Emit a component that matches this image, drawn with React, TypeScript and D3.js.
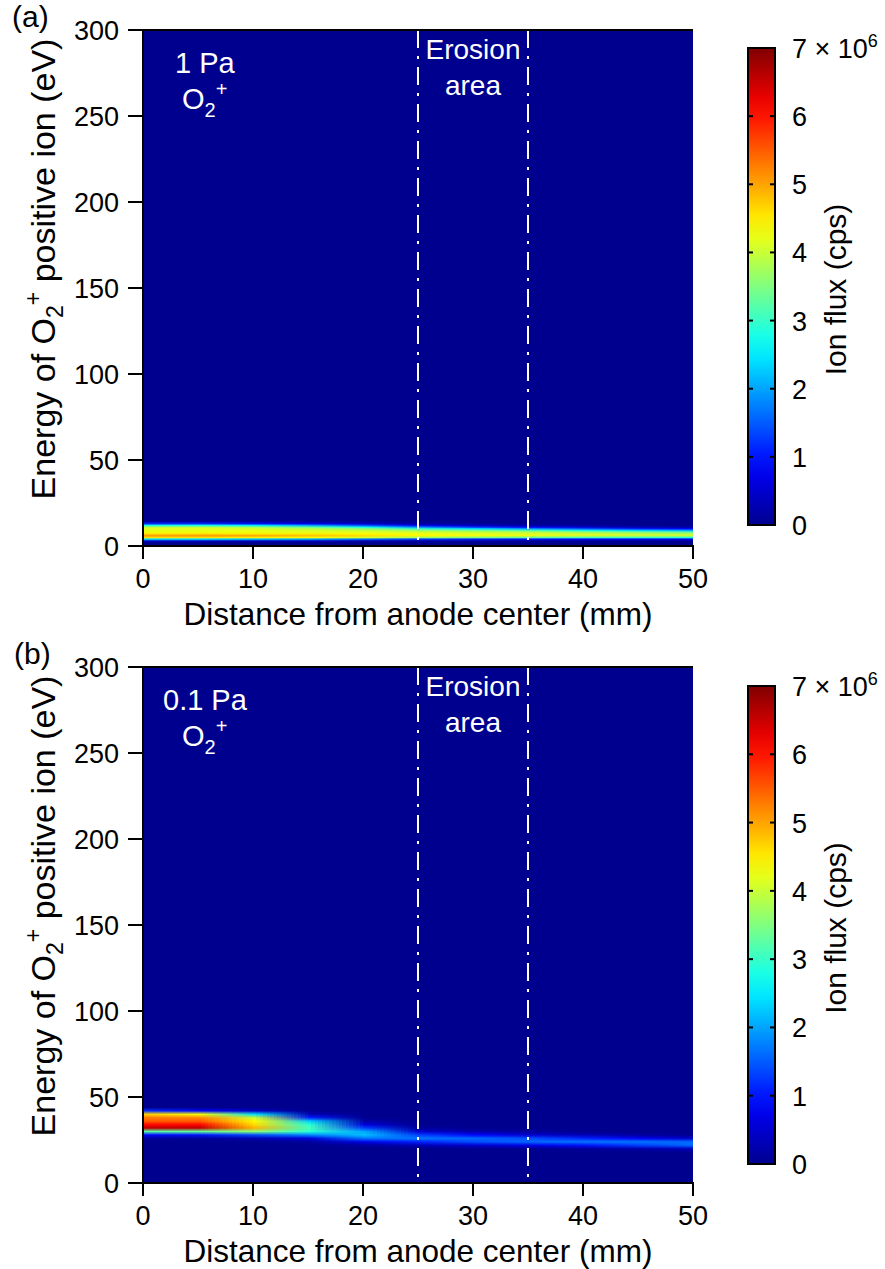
import React, { useMemo } from 'react';
import * as d3 from 'd3';

// distance from anode center (mm), one column of the maps per entry
const distances = [0, 5, 10, 15, 20, 25, 30, 35, 40, 45, 50];

// (a) 1 Pa: energy rows (eV) and flux (x10^6 cps), one line per distance
const energiesA = [2, 3, 4, 5, 6, 7, 8, 9, 10, 11, 12, 13, 14, 15];
const fluxA = [
  [0, 0.5, 2.5, 4.6, 5.1, 4.6, 4.3, 4.2, 4.2, 3.9, 2.8, 1.2, 0.3, 0],
  [0, 0.5, 2.5, 4.6, 5.1, 4.6, 4.3, 4.2, 4.2, 3.9, 2.8, 1.2, 0.3, 0],
  [0, 0.4, 2.3, 4.5, 5.0, 4.5, 4.3, 4.2, 4.1, 3.7, 2.5, 1.0, 0.2, 0],
  [0, 0.4, 2.1, 4.4, 4.8, 4.5, 4.2, 4.1, 3.9, 3.3, 2.0, 0.7, 0.2, 0],
  [0, 0.3, 1.7, 4.1, 4.6, 4.4, 4.2, 4.0, 3.6, 2.7, 1.4, 0.5, 0.1, 0],
  [0, 0.2, 1.3, 3.7, 4.4, 4.3, 4.1, 3.7, 3.0, 1.8, 0.7, 0.2, 0, 0],
  [0, 0.2, 1.1, 3.5, 4.3, 4.2, 4.0, 3.5, 2.5, 1.2, 0.4, 0.1, 0, 0],
  [0, 0.1, 1.0, 3.3, 4.2, 4.2, 3.9, 3.2, 2.0, 0.8, 0.2, 0, 0, 0],
  [0, 0.1, 0.9, 3.1, 4.1, 4.1, 3.7, 2.8, 1.5, 0.5, 0.1, 0, 0, 0],
  [0, 0.1, 0.8, 3.0, 4.0, 4.0, 3.5, 2.4, 1.1, 0.3, 0, 0, 0, 0],
  [0, 0.1, 0.7, 2.9, 4.0, 3.9, 3.3, 2.1, 0.9, 0.2, 0, 0, 0, 0],
];

// (b) 0.1 Pa
const energiesB = [18, 20, 22, 24, 26, 28, 30, 32, 34, 36, 38, 40, 42, 44];
const fluxB = [
  [0, 0, 0, 0, 0.1, 0.9, 3.2, 6.6, 6.1, 5.5, 5.3, 4.7, 1.2, 0],
  [0, 0, 0, 0, 0.1, 1.0, 3.3, 6.6, 6.1, 5.5, 5.2, 4.3, 0.9, 0],
  [0, 0, 0, 0, 0.3, 1.4, 3.6, 4.9, 4.6, 4.4, 4.0, 2.4, 0.4, 0],
  [0, 0, 0, 0.1, 0.6, 1.8, 2.9, 3.1, 2.9, 2.3, 1.1, 0.3, 0, 0],
  [0, 0, 0.1, 0.7, 1.7, 2.2, 2.0, 1.3, 0.6, 0.2, 0, 0, 0, 0],
  [0, 0, 0.3, 1.1, 1.7, 1.3, 0.5, 0.1, 0, 0, 0, 0, 0, 0],
  [0, 0, 0.5, 1.4, 1.6, 0.9, 0.2, 0, 0, 0, 0, 0, 0, 0],
  [0, 0, 0.7, 1.6, 1.4, 0.5, 0.1, 0, 0, 0, 0, 0, 0, 0],
  [0, 0.1, 1.0, 1.7, 1.1, 0.3, 0, 0, 0, 0, 0, 0, 0, 0],
  [0, 0.2, 1.3, 1.7, 0.8, 0.1, 0, 0, 0, 0, 0, 0, 0, 0],
  [0, 0.4, 1.6, 1.6, 0.4, 0, 0, 0, 0, 0, 0, 0, 0, 0],
];

const xTicks = [0, 10, 20, 30, 40, 50];
const yTicks = [0, 50, 100, 150, 200, 250, 300];
const cbarTicks = [0, 1, 2, 3, 4, 5, 6, 7];
const erosionEdges = [25, 35];

const FONT = '"Liberation Sans", Arial, Helvetica, sans-serif';

const jet = d3
  .scaleLinear<string>()
  .domain([0, 0.125, 0.375, 0.625, 0.875, 1].map(t => t * 7))
  .range(['#00008f', '#0000ff', '#00ffff', '#ffff00', '#ff0000', '#800000'])
  .clamp(true);

function mapImage(flux: number[][]) {
  const cols = flux.length;
  const rows = flux[0].length;
  const canvas = document.createElement('canvas');
  canvas.width = cols;
  canvas.height = rows;
  const ctx = canvas.getContext('2d')!;
  flux.forEach((col, c) => {
    col.forEach((v, r) => {
      ctx.fillStyle = jet(v);
      ctx.fillRect(c, rows - 1 - r, 1, 1);
    });
  });
  return canvas.toDataURL();
}

type PanelProps = {
  top: number;
  letter: string;
  pressure: string;
  energies: number[];
  flux: number[][];
  cbarTop: number;
  cbarBottom: number;
};

const left = 143;
const right = 693;
const plotH = 516;

const Panel = ({ top, letter, pressure, energies, flux, cbarTop, cbarBottom }: PanelProps) => {
  const bottom = top + plotH;
  const x = d3.scaleLinear().domain([0, 50]).range([left, right]);
  const y = d3.scaleLinear().domain([0, 300]).range([bottom, top]);
  const cy = d3.scaleLinear().domain([0, 7]).range([cbarBottom, cbarTop]);
  const href = useMemo(() => mapImage(flux), [flux]);
  const dStep = distances[1] - distances[0];
  const eStep = energies[1] - energies[0];
  const clipId = `clip-${letter}`;
  const gradId = `grad-${letter}`;
  const cx0 = 748;
  const cw = 27;

  return (
    <g fontFamily={FONT}>
      <defs>
        <clipPath id={clipId}>
          <rect x={left} y={top} width={right - left} height={plotH} />
        </clipPath>
        <linearGradient id={gradId} x1="0" y1="1" x2="0" y2="0">
          {d3.range(0, 1.0001, 0.05).map(t => (
            <stop key={t} offset={t} stopColor={jet(t * 7)} />
          ))}
        </linearGradient>
      </defs>

      {/* heat map */}
      <rect x={left} y={top} width={right - left} height={plotH} fill={jet(0)} />
      <image
        href={href}
        clipPath={`url(#${clipId})`}
        x={x(distances[0] - dStep / 2)}
        width={x(distances[distances.length - 1] + dStep / 2) - x(distances[0] - dStep / 2)}
        y={y(energies[energies.length - 1] + eStep / 2)}
        height={y(energies[0] - eStep / 2) - y(energies[energies.length - 1] + eStep / 2)}
        preserveAspectRatio="none"
      />

      {/* erosion area markers */}
      {erosionEdges.map(d => (
        <line key={d} x1={x(d)} x2={x(d)} y1={top} y2={bottom} stroke="#fff" strokeWidth={2} strokeDasharray="18 8 3 8" />
      ))}
      <text x={x(30)} y={top + 29} fill="#fff" fontSize={28} textAnchor="middle">Erosion</text>
      <text x={x(30)} y={top + 65} fill="#fff" fontSize={28} textAnchor="middle">area</text>

      <text x={letter === 'a' ? 175 : 163} y={top + 43} fill="#fff" fontSize={29}>{pressure}</text>
      <text x={182} y={top + 79} fill="#fff" fontSize={29}>
        O<tspan fontSize={20} dy={8}>2</tspan><tspan fontSize={20} dy={-21}>+</tspan>
      </text>

      {/* frame */}
      <line x1={left} x2={right} y1={top} y2={top} stroke="#000" strokeWidth={2} />
      <line x1={left} x2={left} y1={top - 1} y2={bottom + 1} stroke="#000" strokeWidth={2} />
      <line x1={left - 1} x2={right + 1} y1={bottom} y2={bottom} stroke="#000" strokeWidth={2} />

      {/* y axis */}
      {yTicks.map(t => (
        <g key={t}>
          <line x1={left - 15} x2={left} y1={y(t)} y2={y(t)} stroke="#000" strokeWidth={2} />
          <text x={left - 24} y={y(t) + 10} fontSize={27} textAnchor="end">{t}</text>
        </g>
      ))}
      <text transform={`translate(55,${(top + bottom) / 2 - 19}) rotate(-90)`} fontSize={34} textAnchor="middle">
        Energy of O<tspan fontSize={23} dy={8}>2</tspan><tspan fontSize={23} dy={-22}>+</tspan><tspan dy={14}> positive ion (eV)</tspan>
      </text>

      {/* x axis */}
      {xTicks.map(t => (
        <g key={t}>
          <line x1={x(t)} x2={x(t)} y1={bottom} y2={bottom + 13} stroke="#000" strokeWidth={2} />
          <text x={x(t)} y={bottom + 42} fontSize={27} textAnchor="middle">{t}</text>
        </g>
      ))}
      <text x={(left + right) / 2} y={bottom + 79} fontSize={31.5} textAnchor="middle">
        Distance from anode center (mm)
      </text>

      <text x={letter === 'a' ? 12 : 14} y={top - 3} fontSize={30}>({letter})</text>

      {/* colour bar */}
      <rect x={cx0} y={cbarTop} width={cw} height={cbarBottom - cbarTop} fill={`url(#${gradId})`} stroke="#000" strokeWidth={2} />
      {cbarTicks.map(t => (
        <g key={t}>
          {t > 0 && t < 7 && (
            <>
              <line x1={cx0} x2={cx0 + 5} y1={cy(t)} y2={cy(t)} stroke="#000" strokeWidth={2} />
              <line x1={cx0 + cw - 5} x2={cx0 + cw} y1={cy(t)} y2={cy(t)} stroke="#000" strokeWidth={2} />
            </>
          )}
          <text x={792} y={cy(t) + 10} fontSize={27}>
            {t === 7 ? (
              <>
                7 × 10<tspan fontSize={18} dy={-11}>6</tspan>
              </>
            ) : (
              t
            )}
          </text>
        </g>
      ))}
      <text transform={`translate(846,${(cbarTop + cbarBottom) / 2 + 3}) rotate(-90)`} fontSize={30} textAnchor="middle">
        Ion flux (cps)
      </text>
    </g>
  );
};

export default function App() {
  return (
    <svg width={885} height={1269} style={{ position: 'absolute', left: 0, top: 0, background: '#fff' }}>
      <Panel top={30} letter="a" pressure="1 Pa" energies={energiesA} flux={fluxA} cbarTop={48} cbarBottom={525} />
      <Panel top={667} letter="b" pressure="0.1 Pa" energies={energiesB} flux={fluxB} cbarTop={686} cbarBottom={1164} />
    </svg>
  );
}
